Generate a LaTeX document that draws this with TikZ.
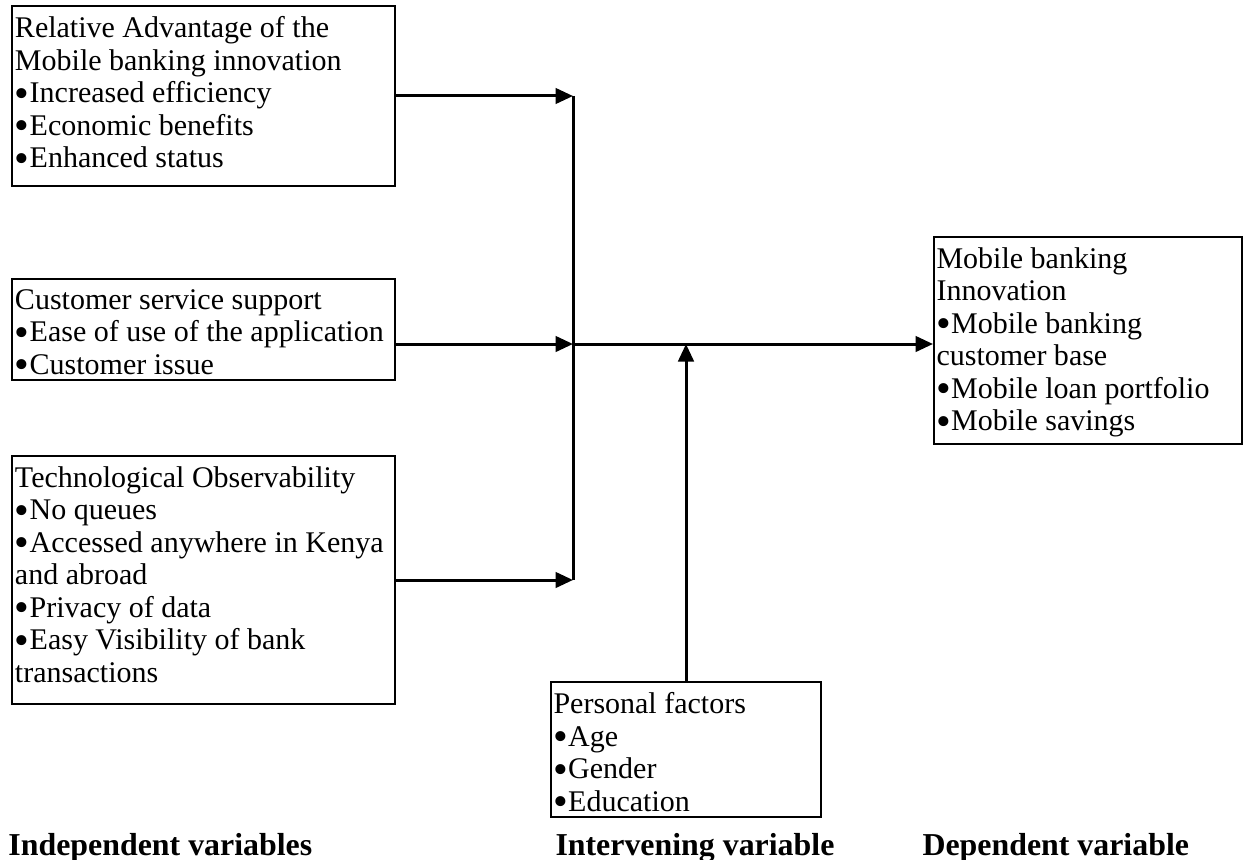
\documentclass[tikz,border=0pt]{standalone}
\usepackage{fontspec}
\setmainfont{Liberation Serif}
\usetikzlibrary{arrows.meta}
\newcommand{\itembul}{\smash{\raisebox{-1.8pt}{\scalebox{1.4}{\textbullet}}}}

\begin{document}
\begin{tikzpicture}[x=0.4pt,y=-0.4pt,
  >={Triangle[length=7pt,width=6.2pt]},
  varbox/.style={draw,line width=0.8pt,inner sep=0pt},
  boxtext/.style={anchor=north west,inner sep=0pt,align=left,
    font=\fontsize{12}{13}\selectfont,xshift=1.2pt,yshift=-4.4pt},
  flow/.style={line width=1.2pt},
  caption/.style={anchor=west,inner sep=0pt,
    font=\fontsize{12.75}{15}\selectfont\bfseries}]
\useasboundingbox (0,0) rectangle (1244,859);

% independent variables
\node[varbox,minimum width=152.8pt,minimum height=72pt] (rel) at (203.5,96) {};
\node[boxtext] (reltext) at (rel.north west) {Relative Advantage of the\\
  Mobile banking innovation\\\itembul Increased efficiency\\
  \itembul Economic benefits\\\itembul Enhanced status};

\node[varbox,minimum width=152.8pt,minimum height=40.4pt] (cust) at (203.5,329.5) {};
\node[boxtext] (custtext) at (cust.north west) {Customer service support\\
  \itembul Ease of use of the application\\\itembul Customer issue};

\node[varbox,minimum width=152.8pt,minimum height=99.2pt] (tech) at (203.5,580) {};
\node[boxtext] (techtext) at (tech.north west) {Technological Observability\\
  \itembul No queues\\\itembul Accessed anywhere in Kenya\\and abroad\\
  \itembul Privacy of data\\\itembul Easy Visibility of bank\\transactions};

% dependent variable
\node[varbox,minimum width=123.2pt,minimum height=82.8pt] (dep) at (1088,340.5) {};
\node[boxtext] (deptext) at (dep.north west) {Mobile banking\\Innovation\\
  \itembul Mobile banking\\customer base\\
  \itembul Mobile loan portfolio\\\itembul Mobile savings};

% intervening variable
\node[varbox,minimum width=108pt,minimum height=54pt] (pers) at (686,749.5) {};
\node[boxtext] (perstext) at (pers.north west) {Personal factors\\
  \itembul Age\\\itembul Gender\\\itembul Education};

\coordinate (hub) at (573,344);
\draw[flow,->] (rel.east) -- (rel.east -| hub);
\draw[flow,->] (cust.east |- hub) -- (hub);
\draw[flow,->] (tech.east) -- (tech.east -| hub);
\draw[flow] (rel.east -| hub) -- (tech.east -| hub);
\draw[flow,->] (hub) -- (dep.west |- hub);
\draw[flow,->] (pers.north) -- (pers.north |- hub);

\node[caption] (indep) at (8,848) {Independent variables};
\node[caption] (interv) at (555,848) {Intervening variable};
\node[caption] (depend) at (922,848) {Dependent variable};
\end{tikzpicture}
\end{document}
